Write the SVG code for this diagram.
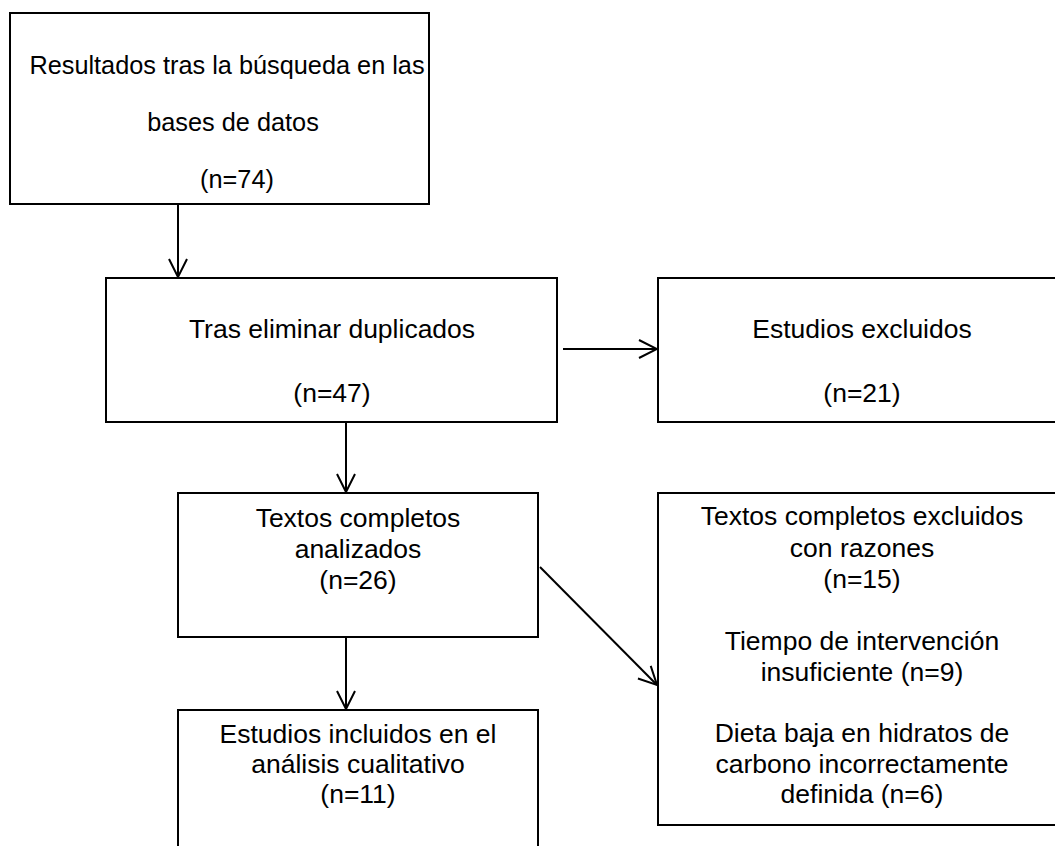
<svg xmlns="http://www.w3.org/2000/svg" width="1055" height="846" viewBox="0 0 1055 846">
<style>
.box{fill:#fff;stroke:#000;stroke-width:2}
.t{font-family:"Liberation Sans",Arial,sans-serif;font-size:26.5px;fill:#000;text-anchor:middle}
.s{font-size:25.3px}
.conn{stroke:#000;stroke-width:2;fill:none}
</style>
<defs>
<marker id="arr" markerUnits="userSpaceOnUse" viewBox="0 0 20 20" markerWidth="20" markerHeight="20" refX="19" refY="10" orient="auto">
<path d="M1,1 L19,10 L1,19" fill="none" stroke="#000" stroke-width="2"/>
</marker>
</defs>
<rect width="1055" height="846" fill="#fff"/>
<g id="n1">
<rect class="box" x="10" y="13" width="419" height="191"/>
<text class="t s" x="227" y="74">Resultados tras la búsqueda en las</text>
<text class="t s" x="233" y="131">bases de datos</text>
<text class="t s" x="237" y="188">(n=74)</text>
</g>
<g id="n2">
<rect class="box" x="106" y="278" width="451" height="144"/>
<text class="t" x="332" y="338">Tras eliminar duplicados</text>
<text class="t" x="332" y="402">(n=47)</text>
</g>
<g id="n3">
<rect class="box" x="658" y="278" width="408" height="144"/>
<text class="t" x="862" y="338">Estudios excluidos</text>
<text class="t" x="862" y="402">(n=21)</text>
</g>
<g id="n4">
<rect class="box" x="178" y="493" width="360" height="144"/>
<text class="t" x="358" y="527">Textos completos</text>
<text class="t" x="358" y="558">analizados</text>
<text class="t" x="358" y="589">(n=26)</text>
</g>
<g id="n5">
<rect class="box" x="178" y="710" width="360" height="150"/>
<text class="t" x="358" y="743">Estudios incluidos en el</text>
<text class="t" x="358" y="773">análisis cualitativo</text>
<text class="t" x="358" y="803">(n=11)</text>
</g>
<g id="n6">
<rect class="box" x="658" y="493" width="408" height="332"/>
<text class="t" x="862" y="525">Textos completos excluidos</text>
<text class="t" x="862" y="557">con razones</text>
<text class="t" x="862" y="588">(n=15)</text>
<text class="t" x="862" y="650">Tiempo de intervención</text>
<text class="t" x="862" y="681">insuficiente (n=9)</text>
<text class="t" x="862" y="742">Dieta baja en hidratos de</text>
<text class="t" x="862" y="773">carbono incorrectamente</text>
<text class="t" x="862" y="803">definida (n=6)</text>
</g>
<g id="connectors">
<line class="conn" x1="178" y1="204" x2="178" y2="277" marker-end="url(#arr)"/>
<line class="conn" x1="563" y1="349" x2="657" y2="349" marker-end="url(#arr)"/>
<line class="conn" x1="346" y1="422" x2="346" y2="492" marker-end="url(#arr)"/>
<line class="conn" x1="346" y1="637" x2="346" y2="709" marker-end="url(#arr)"/>
<line class="conn" x1="540" y1="567" x2="657" y2="685" marker-end="url(#arr)"/>
</g>
</svg>
